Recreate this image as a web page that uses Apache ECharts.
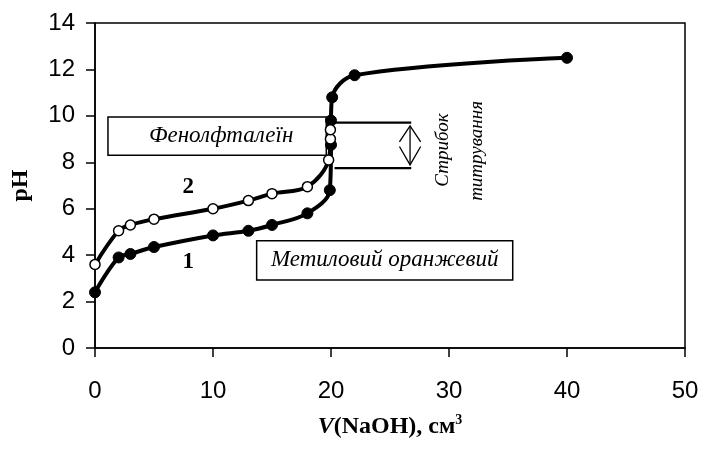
<!DOCTYPE html>
<html><head><meta charset="utf-8">
<script src="https://cdn.jsdelivr.net/npm/echarts@6/dist/echarts.min.js"></script>
<style>html,body{margin:0;padding:0;background:#fff}#c{width:702px;height:454px}</style>
</head><body><div id="c"></div>
<script>
// ---- data ----
const xTicks = [0, 10, 20, 30, 40, 50];
const yTicks = [0, 2, 4, 6, 8, 10, 12, 14];
// curve 1 (filled markers)
const curve1 = [[0,2.4],[2,3.9],[3,4.05],[5,4.35],[10,4.85],[13,5.05],[15,5.3],[18,5.8],[19.9,6.8],[20,8.75],[20,9.8],[20.1,10.8],[22,11.75],[40,12.5]];
// curve 2 (open markers)
const curve2 = [[0,3.6],[2,5.05],[3,5.3],[5,5.55],[10,6.0],[13,6.35],[15,6.65],[18,6.95],[19.8,8.1],[19.95,9.0],[19.95,9.4]];
const curveNames = ["1", "2"];
const curveLabelPos = [[7.9,3.7],[7.9,6.94]];
// annotation boxes: [x1, x2, y1, y2] in data units, with text
const boxTexts = ["Фенолфталеїн", "Метиловий оранжевий"];
const boxRanges = [[1.1,19.6,8.3,9.95],[13.7,35.4,2.93,4.62]];
// titration jump bracket
const jumpLevels = [9.71, 7.75];
const jumpX = [20.3, 26.8];
const jumpTexts = ["Стрибок", "титрування"];
const jumpTextPos = [[29.5,8.53],[32.4,8.49]];

const chart = echarts.init(document.getElementById('c'), null, {renderer:'canvas'});
const serif = 'Liberation Serif, Times New Roman, serif';
const sans = 'Liberation Sans, Arial, sans-serif';

const option = {
  backgroundColor: '#fff',
  animation: false,
  grid: {left: 95, right: 17, top: 23, bottom: 106, show: true, borderColor: '#000', borderWidth: 1.5, backgroundColor: 'transparent'},
  xAxis: {
    type: 'value', min: 0, max: 50, interval: 10,
    axisLine: {show: true, lineStyle: {color: '#000', width: 1.5}},
    axisTick: {show: true, length: 9, lineStyle: {color: '#000', width: 1.5}},
    splitLine: {show: false},
    axisLabel: {color: '#000', fontSize: 24, fontFamily: sans, margin: 31,
      formatter: v => xTicks.includes(v) ? String(v) : ''},
    name: '{i|V}{b|(NaOH), см}{s|3}',
    nameLocation: 'middle', nameGap: 65,
    nameTextStyle: {rich: {
      i: {fontFamily: serif, fontStyle: 'italic', fontWeight: 'bold', fontSize: 24, color: '#000'},
      b: {fontFamily: serif, fontWeight: 'bold', fontSize: 24, color: '#000'},
      s: {fontFamily: serif, fontWeight: 'bold', fontSize: 14, color: '#000', verticalAlign: 'top', padding: [0,0,14,0]}
    }}
  },
  yAxis: {
    type: 'value', min: 0, max: 14, interval: 2,
    axisLine: {show: true, lineStyle: {color: '#000', width: 1.5}},
    axisTick: {show: true, length: 9, lineStyle: {color: '#000', width: 1.5}},
    splitLine: {show: false},
    axisLabel: {color: '#000', fontSize: 24, fontFamily: sans, margin: 20,
      formatter: v => yTicks.includes(v) ? String(v) : ''},
    name: 'pH', nameLocation: 'middle', nameGap: 62, nameRotate: 90,
    nameTextStyle: {fontFamily: serif, fontWeight: 'bold', fontSize: 24, color: '#000'}
  },
  series: [
    {
      name: curveNames[0], type: 'line', data: curve1, smooth: 0.35,
      symbol: 'circle', symbolSize: 11,
      lineStyle: {color: '#000', width: 4},
      itemStyle: {color: '#000', borderColor: '#000', borderWidth: 1}, z: 3
    },
    {
      name: curveNames[1], type: 'line', data: curve2, smooth: 0.35,
      symbol: 'circle', symbolSize: 10,
      lineStyle: {color: '#000', width: 4},
      itemStyle: {color: '#fff', borderColor: '#000', borderWidth: 1.5}, z: 4
    }
  ]
};
chart.setOption(option);

const P = (x, y) => chart.convertToPixel({gridIndex: 0}, [x, y]);
const g = [];
// boxes
boxRanges.forEach((r, i) => {
  const a = P(r[0], r[3]), b = P(r[1], r[2]);
  g.push({type: 'rect', z: 1, shape: {x: a[0], y: a[1], width: b[0]-a[0], height: b[1]-a[1]},
    style: {fill: '#fff', stroke: '#000', lineWidth: 1.5}});
  g.push({type: 'text', z: 2, x: (a[0]+b[0])/2 + (i === 0 ? 4 : 0), y: (a[1]+b[1])/2,
    style: {text: boxTexts[i], fill: '#000', font: 'italic 23px ' + serif, align: 'center', verticalAlign: 'middle'}});
});
// bracket lines
jumpLevels.forEach(lv => {
  const a = P(jumpX[0], lv), b = P(jumpX[1], lv);
  g.push({type: 'line', z: 2, shape: {x1: a[0], y1: a[1], x2: b[0], y2: b[1]}, style: {stroke: '#000', lineWidth: 2.2}});
});
// double arrow
{
  const ax = 26.7;
  const top = P(ax, 9.57), bot = P(ax, 7.89);
  const wl = P(25.8, 8.88), wr = P(27.6, 8.88);
  const wl2 = P(25.8, 8.68), wr2 = P(27.6, 8.68);
  g.push({type: 'line', z: 2, shape: {x1: top[0], y1: top[1], x2: bot[0], y2: bot[1]}, style: {stroke: '#000', lineWidth: 1.3}});
  g.push({type: 'polyline', z: 2, shape: {points: [[wl[0], wl[1]], top, [wr[0], wr[1]]]}, style: {stroke: '#000', lineWidth: 1.3, fill: null}});
  g.push({type: 'polyline', z: 2, shape: {points: [[wl2[0], wl2[1]], bot, [wr2[0], wr2[1]]]}, style: {stroke: '#000', lineWidth: 1.3, fill: null}});
}
// rotated jump text
jumpTexts.forEach((t, i) => {
  const p = P(jumpTextPos[i][0], jumpTextPos[i][1]);
  g.push({type: 'text', z: 2, x: p[0], y: p[1], rotation: Math.PI/2,
    style: {text: t, fill: '#000', font: 'italic 19px ' + serif, align: 'center', verticalAlign: 'middle'}});
});
// curve number labels
curveNames.forEach((t, i) => {
  const p = P(curveLabelPos[i][0], curveLabelPos[i][1]);
  g.push({type: 'text', z: 5, x: p[0], y: p[1],
    style: {text: t, fill: '#000', font: 'bold 23px ' + serif, align: 'center', verticalAlign: 'middle'}});
});
chart.setOption({graphic: {elements: g}});
</script>
</body></html>
